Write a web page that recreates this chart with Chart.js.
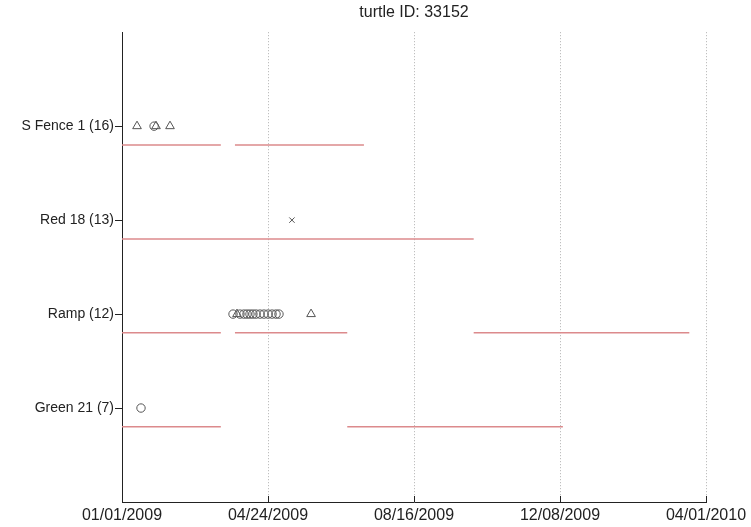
<!DOCTYPE html>
<html lang="en">
<head>
  <meta charset="UTF-8">
  <title>turtle ID: 33152</title>
  <script src="https://cdn.jsdelivr.net/npm/chart.js"></script>
  <style>
    html, body { margin: 0; padding: 0; background: #fff; }
    #wrap { width: 751px; height: 527px; }
  </style>
</head>
<body>
  <div id="wrap"><canvas id="chart1" width="751" height="527"></canvas></div>

  <script>
    // rows from bottom to top (y = 1..4)
    const rowNames = ['Green 21 (7)', 'Ramp (12)', 'Red 18 (13)', 'S Fence 1 (16)'];

    // x axis: days since 01/01/2009
    const tickDays = [0, 113.75, 227.5, 341.25, 455];
    const tickLabels = ['01/01/2009', '04/24/2009', '08/16/2009', '12/08/2009', '04/01/2010'];

    // red presence segments [start, end] per row
    const segGreen = [[0, 77], [175.5, 343.5]];
    const segRamp = [[0, 77], [88, 175.5], [274, 442]];
    const segRed = [[0, 274]];
    const segFence = [[0, 77], [88, 188.5]];

    // detections (days)
    const circGreen = [14.8];
    const circRamp = [86.5, 91.9, 95, 97.4, 99.7, 102, 104.4, 107.5, 110.6, 113.8, 116.9, 120, 122.3];
    const circFence = [25];
    const triRamp = [89.6, 147.3];
    const triFence = [11.7, 26.5, 37.4];
    const crossRed = [132.4];

    function segData(segs, row) {
      const out = [];
      segs.forEach(s => {
        out.push({ x: s[0], y: row - 0.2 });
        out.push({ x: s[1], y: row - 0.2 });
        out.push({ x: s[1], y: null });
      });
      return out;
    }
    function pts(xs, row) {
      return xs.map(x => ({ x: x, y: row }));
    }

    const lineStyle = { type: 'line', borderColor: '#dc8a8c', borderWidth: 1.5, pointRadius: 0, spanGaps: false, fill: false };
    const markStyle = { type: 'scatter', borderColor: '#555', backgroundColor: 'rgba(0,0,0,0)', borderWidth: 1 };

    const datasets = [
      Object.assign({ data: segData(segGreen, 1) }, lineStyle),
      Object.assign({ data: segData(segRamp, 2) }, lineStyle),
      Object.assign({ data: segData(segRed, 3) }, lineStyle),
      Object.assign({ data: segData(segFence, 4) }, lineStyle),
      Object.assign({ data: [...pts(circGreen, 1), ...pts(circRamp, 2), ...pts(circFence, 4)], pointStyle: 'circle', pointRadius: 4.2 }, markStyle),
      Object.assign({ data: [...pts(triRamp, 2), ...pts(triFence, 4)], pointStyle: 'triangle', pointRadius: 5 }, markStyle),
      Object.assign({ data: pts(crossRed, 3), pointStyle: 'crossRot', pointRadius: 3.8 }, markStyle)
    ];

    // small inward ticks on the bottom axis
    const innerTicks = {
      id: 'innerTicks',
      afterDraw: chart => {
        const ctx = chart.ctx, xs = chart.scales.x, bottom = chart.chartArea.bottom;
        ctx.save();
        ctx.strokeStyle = '#222';
        ctx.lineWidth = 1;
        xs.ticks.forEach(t => {
          const px = Math.round(xs.getPixelForValue(t.value)) + 0.5;
          ctx.beginPath();
          ctx.moveTo(px, bottom);
          ctx.lineTo(px, bottom - 6);
          ctx.stroke();
        });
        ctx.restore();
      }
    };

    new Chart(document.getElementById('chart1').getContext('2d'), {
      data: { datasets: datasets },
      options: {
        responsive: false,
        animation: false,
        layout: { padding: { left: 0, right: 45, top: 0, bottom: 0 } },
        plugins: {
          legend: { display: false },
          tooltip: { enabled: false },
          title: {
            display: true,
            fullSize: false,
            text: 'turtle ID: 33152',
            color: '#222',
            font: { family: 'Liberation Sans, Arial, sans-serif', size: 16, weight: 'normal' },
            padding: { top: 3, bottom: 10 }
          }
        },
        scales: {
          x: {
            type: 'linear',
            min: 0,
            max: 455,
            afterBuildTicks: s => { s.ticks = tickDays.map(v => ({ value: v })); },
            afterFit: s => { s.height = 25; },
            ticks: {
              autoSkip: false,
              maxRotation: 0,
              padding: 4,
              color: '#222',
              font: { family: 'Liberation Sans, Arial, sans-serif', size: 16 },
              callback: (v, i) => tickLabels[i]
            },
            grid: { color: '#b0b0b0', lineWidth: 1, drawTicks: false, tickLength: 0 },
            border: { display: true, color: '#222', width: 1, dash: [1, 2] }
          },
          y: {
            type: 'linear',
            min: 0,
            max: 5,
            afterBuildTicks: s => { s.ticks = [1, 2, 3, 4].map(v => ({ value: v })); },
            afterFit: s => { s.width = 122; },
            ticks: {
              padding: 1,
              color: '#222',
              font: { family: 'Liberation Sans, Arial, sans-serif', size: 14 },
              callback: v => rowNames[v - 1]
            },
            grid: { drawOnChartArea: false, drawTicks: true, tickLength: 7, color: '#222' },
            border: { display: true, color: '#222', width: 1 }
          }
        }
      },
      plugins: [innerTicks]
    });
  </script>
</body>
</html>
